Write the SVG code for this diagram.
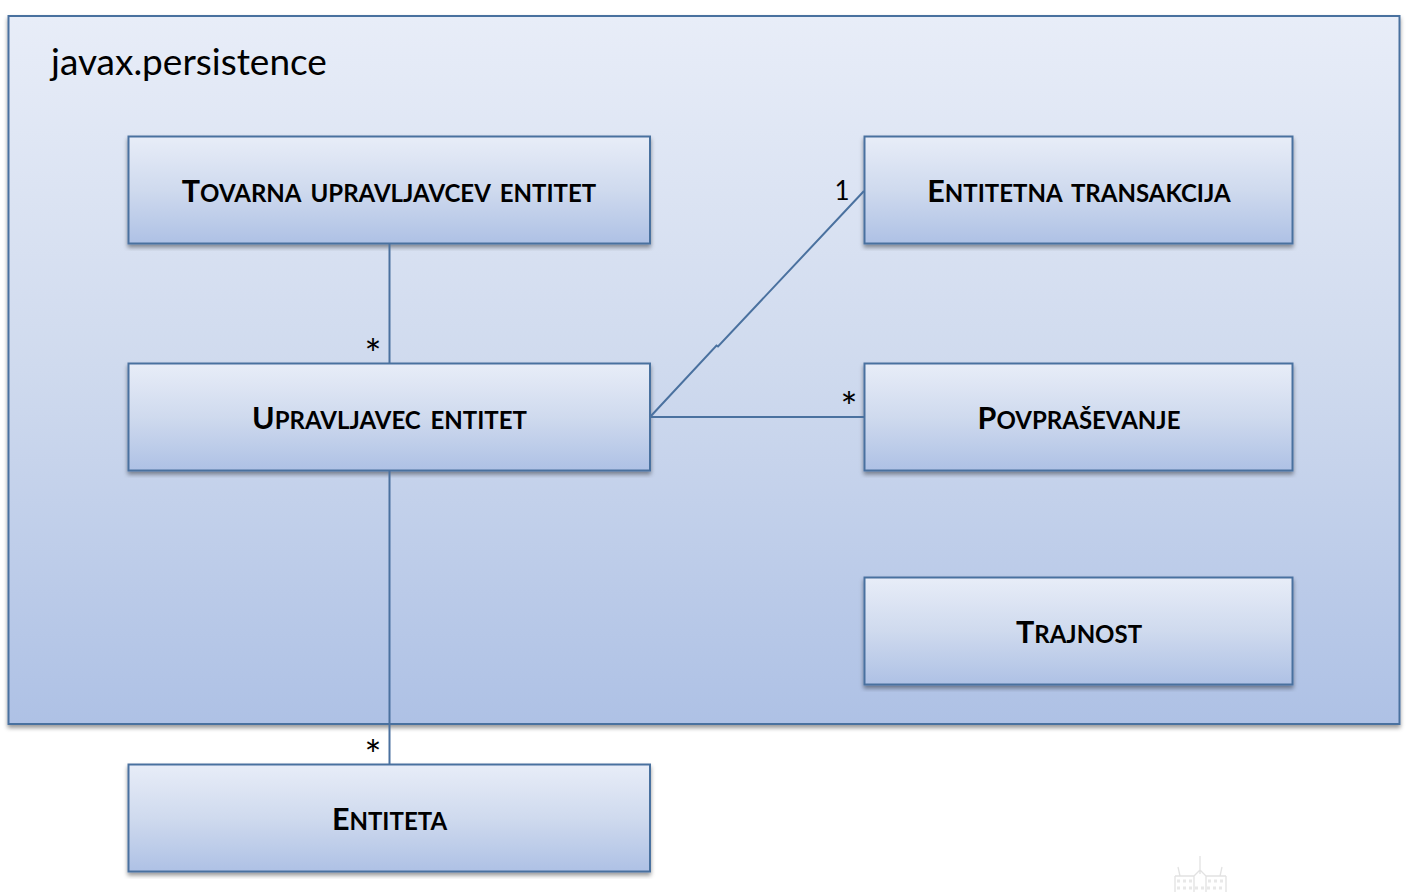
<svg xmlns="http://www.w3.org/2000/svg" width="1428" height="892" viewBox="0 0 1428 892">
<style>
.box{stroke:#4a719f;stroke-width:2;fill:url(#g);filter:url(#s)}
.lbl{font-family:"Lato","Liberation Sans",sans-serif;font-weight:700;font-size:24px;word-spacing:4px;fill:#000;text-anchor:middle}
.cap{font-size:30.5px}
.con{stroke:#4a719f;stroke-width:2;fill:none}
.one{font-family:"Lato","Liberation Sans",sans-serif;font-size:26px;fill:#000;text-anchor:middle}
.star{font-family:"Lato","Liberation Sans",sans-serif;font-size:40px;fill:#000;text-anchor:middle}
.c{stroke:#e2e2e2;stroke-width:1.300;fill:none}
.w{stroke:#e8e8e8;stroke-width:3;stroke-dasharray:3 3;fill:none}
</style>
<defs>
<linearGradient id="g" x1="0" y1="0" x2="0" y2="1"><stop offset="0" stop-color="#e8edf8"/><stop offset=".5" stop-color="#cfdaee"/><stop offset="1" stop-color="#aec1e5"/></linearGradient>
<filter id="s" x="-3%" y="-5%" width="106%" height="112%"><feDropShadow dx="0" dy="3" stdDeviation="2" flood-color="#000" flood-opacity=".4"/></filter>
</defs>
<rect width="1428" height="892" fill="#fff"/>
<g id="package">
<rect class="box" x="8.500" y="16" width="1391" height="708"/>
<text x="51" y="75" font-family="Lato,'Liberation Sans',sans-serif" font-size="37" fill="#000">javax.persistence</text>
</g>
<g id="node-tovarna">
<rect class="box" x="128.500" y="136.500" width="521.500" height="107"/>
<text class="lbl" x="389" y="202"><tspan class="cap">T</tspan>OVARNA UPRAVLJAVCEV ENTITET</text>
</g>
<g id="node-upravljavec">
<rect class="box" x="128.500" y="363.500" width="521.500" height="107"/>
<text class="lbl" x="389.500" y="429"><tspan class="cap">U</tspan>PRAVLJAVEC ENTITET</text>
</g>
<g id="node-entiteta">
<rect class="box" x="128.500" y="764.500" width="521.500" height="107"/>
<text class="lbl" x="389.500" y="830"><tspan class="cap">E</tspan>NTITETA</text>
</g>
<g id="node-transakcija">
<rect class="box" x="864.500" y="136.500" width="428" height="107"/>
<text class="lbl" x="1079" y="202"><tspan class="cap">E</tspan>NTITETNA TRANSAKCIJA</text>
</g>
<g id="node-povprasevanje">
<rect class="box" x="864.500" y="363.500" width="428" height="107"/>
<text class="lbl" x="1079" y="429"><tspan class="cap">P</tspan>OVPRAŠEVANJE</text>
</g>
<g id="node-trajnost">
<rect class="box" x="864.500" y="577.500" width="428" height="107"/>
<text class="lbl" x="1079" y="643"><tspan class="cap">T</tspan>RAJNOST</text>
</g>
<g id="connectors">
<path class="con" d="M389.500 244V363"/>
<path class="con" d="M389.500 471V764"/>
<path class="con" d="M650 417L716.500 345.500L718 346.500L864 191"/>
<path class="con" d="M650 417H864"/>
</g>
<g id="labels">
<text class="star" x="373" y="369">*</text>
<text class="star" x="373" y="770">*</text>
<text class="star" x="849" y="422">*</text>
<text class="one" x="842" y="200">1</text>
</g>
<g id="castle">
<path class="c" d="M1200 856V874M1178 867L1180 876M1222 867L1220 876M1175 876H1194M1206 876H1226M1175 876V892M1226 876V892M1194 876L1200 870L1206 876V892M1194 876V892"/>
<path class="w" d="M1177 881H1192M1208 881H1225M1177 888H1225"/>
</g>
</svg>
